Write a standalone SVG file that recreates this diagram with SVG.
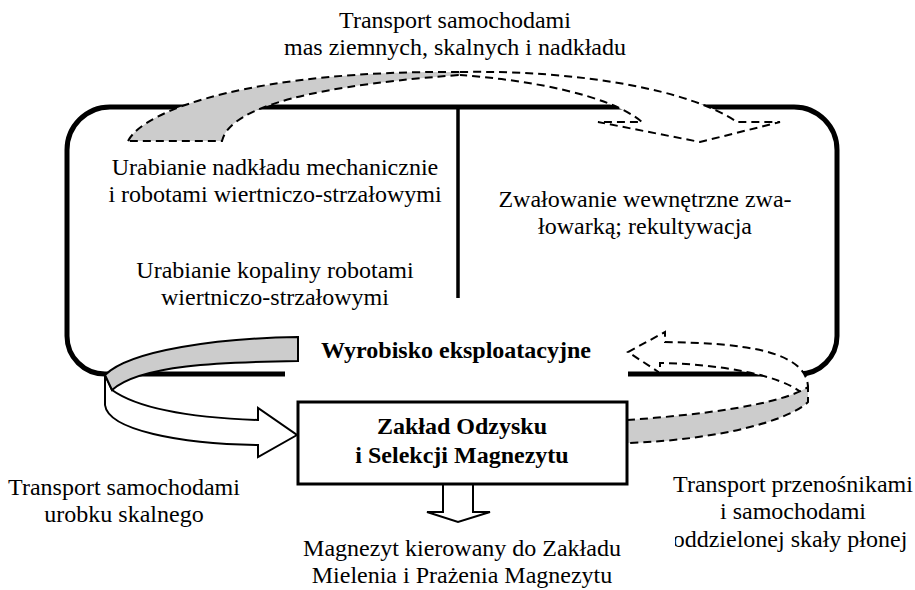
<svg xmlns="http://www.w3.org/2000/svg" width="915" height="590" viewBox="0 0 915 590" font-family="'Liberation Serif', Tinos, 'Times New Roman', 'DejaVu Serif', serif">
<style>
text{font-family:'Liberation Serif', Tinos, 'Times New Roman', 'DejaVu Serif', serif;font-size:24px;fill:#000;text-anchor:middle}
.b{font-weight:bold}
.dash{stroke:#000;stroke-width:2;stroke-dasharray:8 5;stroke-linejoin:miter}
.solid{stroke:#000;stroke-width:2;stroke-linejoin:miter}
.gray{fill:#cccccc}
.white{fill:#fff}
</style>
<defs>
<clipPath id="clipR"><rect x="675" y="520" width="240" height="40"/></clipPath>
</defs>
<rect width="915" height="590" fill="#fff"/>
<g id="wyrobisko">
<path d="M285,374 L105,374 A38,38 0 0 1 67,336 L67,150 A43,43 0 0 1 110,107 L794,107 A43,43 0 0 1 837,150 L837,336 A38,38 0 0 1 799,374 L628,374" fill="none" stroke="#000" stroke-width="5"/>
<line x1="458" y1="107" x2="458" y2="298" stroke="#000" stroke-width="3.5"/>
<text x="456" y="358" class="b">Wyrobisko eksploatacyjne</text>
</g>
<g id="connectors">
<path class="gray dash" d="M128,141 C145,108 260,70 460,72 L460,75 C280,88 228,115 222,141 Z"/>
<path class="white dash" d="M460,72 C580,70 690,90 737,122 L780,122 L700,142 L598,122 L642,122 C610,95 530,80 460,75"/>
<path class="white solid" d="M105,375 L105,405 C108,430 180,444 258,445 L258,457 L297,435 L258,408 L258,420 C200,418 140,410 112,390 Z"/>
<path class="gray solid" d="M298,337 C220,338 130,350 105,375 L112,390 C140,365 220,362 298,361 Z"/>
<path class="white dash" d="M808,390 C810,350 740,343 665,342 L665,332 L628,352 L660,373 L660,363 C720,364 780,375 802,393"/>
<path class="gray dash" d="M627,420 C700,415 780,405 808,387 L808,402 C790,420 720,440 627,443"/>
<path class="white solid" d="M443,484 L443,512 L427,512 L458,522 L490,512 L473,512 L473,484"/>
</g>
<g id="zaklad">
<rect x="298" y="402" width="329" height="82" fill="#fff" stroke="#000" stroke-width="3"/>
<text x="462" y="434" class="b">Zakład Odzysku</text>
<text x="462" y="463" class="b">i Selekcji Magnezytu</text>
</g>
<g id="label-top">
<text x="455" y="28">Transport samochodami</text>
<text x="455" y="55">mas ziemnych, skalnych i nadkładu</text>
</g>
<g id="label-nadklad">
<text x="275" y="175">Urabianie nadkładu mechanicznie</text>
<text x="275" y="202">i robotami wiertniczo-strzałowymi</text>
</g>
<g id="label-kopalina">
<text x="275" y="278">Urabianie kopaliny robotami</text>
<text x="275" y="305">wiertniczo-strzałowymi</text>
</g>
<g id="label-zwalowanie">
<text x="645" y="207">Zwałowanie wewnętrzne zwa-</text>
<text x="645" y="234">łowarką; rekultywacja</text>
</g>
<g id="label-magnezyt">
<text x="462" y="556">Magnezyt kierowany do Zakładu</text>
<text x="462" y="583">Mielenia i Prażenia Magnezytu</text>
</g>
<g id="label-left">
<text x="124" y="495">Transport samochodami</text>
<text x="124" y="522">urobku skalnego</text>
</g>
<g id="label-right">
<text x="793" y="492">Transport przenośnikami</text>
<text x="793" y="519">i samochodami</text>
<text x="790" y="547" clip-path="url(#clipR)">oddzielonej skały płonej</text>
</g>
</svg>
